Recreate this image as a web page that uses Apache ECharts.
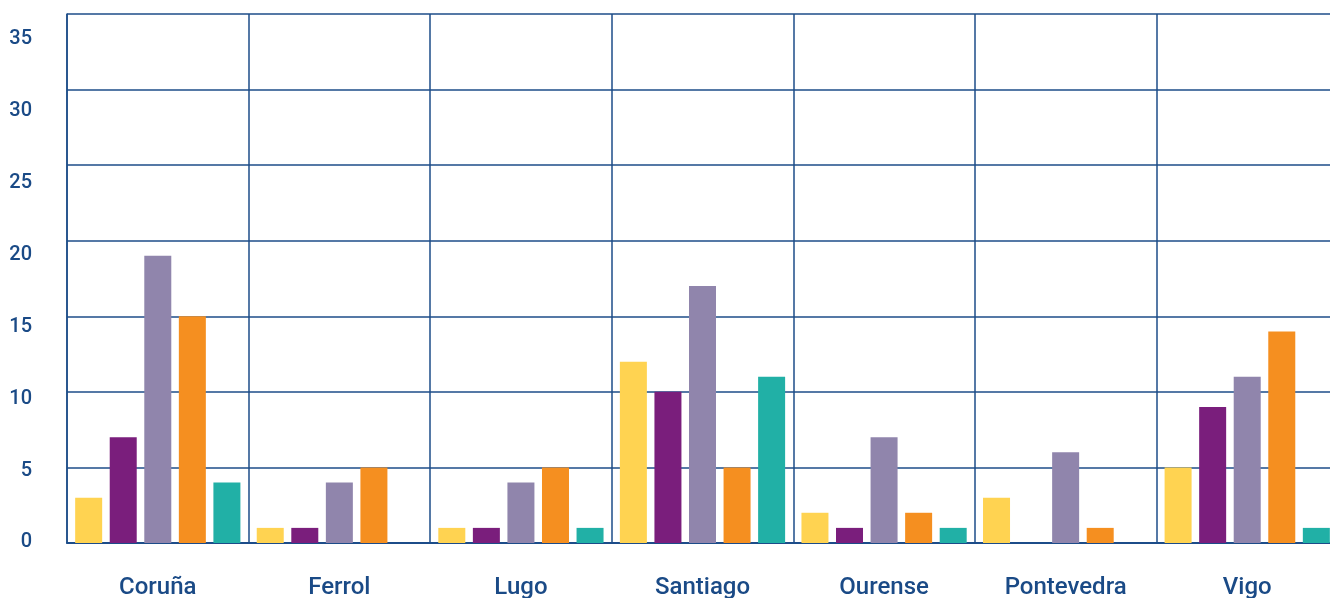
<!DOCTYPE html>
<html>
<head>
<meta charset="utf-8">
<script src="https://cdn.jsdelivr.net/npm/echarts@6/dist/echarts.min.js"></script>
<style>html,body{margin:0;padding:0;background:#fff;}#c{width:1330px;height:598px;}</style>
</head>
<body>
<div id="c"></div>
<script>
const categories = ['Coruña','Ferrol','Lugo','Santiago','Ourense','Pontevedra','Vigo'];
const serieA = [3, 1, 1, 12, 2, 3, 5];
const serieB = [7, 1, 1, 10, 1, 0, 9];
const serieC = [19, 4, 4, 17, 7, 6, 11];
const serieD = [15, 5, 5, 5, 2, 1, 14];
const serieE = [4, 0, 1, 11, 1, 0, 1];
const yTickLabels = [0, 5, 10, 15, 20, 25, 30, 35];
const colors = ['#FFD351', '#7A1E7C', '#9085AC', '#F58F20', '#21B0A6'];
const lineColor = '#1C4C89';
const textColor = '#1A4A86';

const chart = echarts.init(document.getElementById('c'));
const mk = (d, i) => ({type:'bar', data:d, yAxisIndex:0, barWidth:27, barGap:'28%', itemStyle:{color:colors[i]}});
chart.setOption({
  animation:false,
  grid:{left:67, top:14, width:1271, height:529, containLabel:false, outerBoundsMode:'none'},
  xAxis:{type:'category', data:categories,
    axisLine:{show:true, lineStyle:{color:lineColor, width:2}},
    axisTick:{show:false},
    splitLine:{show:true, lineStyle:{color:lineColor, width:1.5}},
    axisLabel:{color:textColor, fontSize:24, fontWeight:500, fontFamily:'Roboto', margin:33}},
  yAxis:[
    {type:'value', min:0, max:35, interval:5,
      axisLine:{show:true, lineStyle:{color:lineColor, width:1.5}},
      axisTick:{show:false},
      splitLine:{show:true, lineStyle:{color:lineColor, width:1.5}},
      axisLabel:{show:false}},
    {type:'value', position:'left', min:-0.035, max:36.77,
      axisLine:{show:false}, axisTick:{show:false}, splitLine:{show:false},
      axisLabel:{customValues:yTickLabels, color:textColor, fontSize:20, fontWeight:500, fontFamily:'Roboto', margin:35}}
  ],
  series:[mk(serieA,0), mk(serieB,1), mk(serieC,2), mk(serieD,3), mk(serieE,4)]
});
</script>
</body>
</html>
